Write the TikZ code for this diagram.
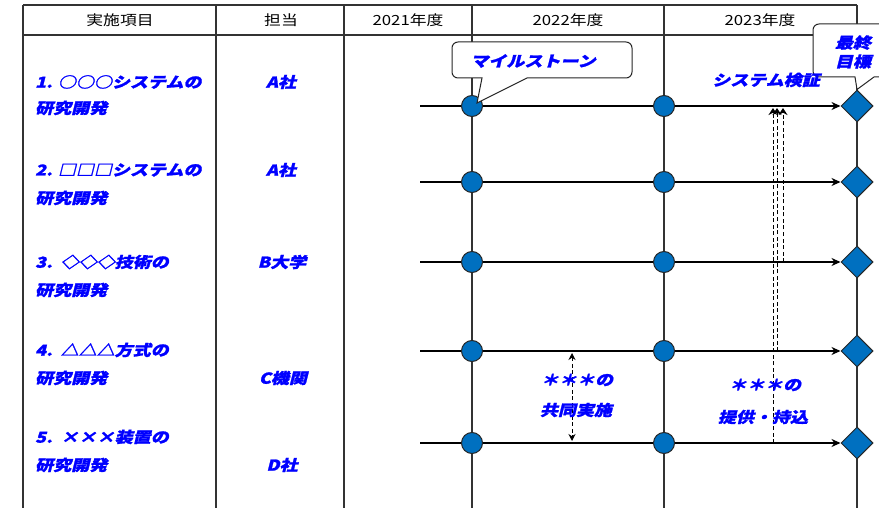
\documentclass[tikz,border=0pt]{standalone}
\usepackage{fontspec}
\usepackage{xcolor}
\usepackage{tikz}
\usetikzlibrary{calc,shapes.geometric,arrows.meta}

\newfontfamily\jphead[FakeStretch=1.2]{Noto Sans CJK JP}
\newfontfamily\jpblue[FakeSlant=0.25,FakeStretch=1.2,
    BoldFeatures={FakeSlant=0.25,FakeStretch=1.2,FakeBold=1.5}]{Noto Sans CJK JP}
\definecolor{msblue}{HTML}{0070C0}
\definecolor{textblue}{HTML}{0000FF}

\begin{document}
\begin{tikzpicture}[x=1pt, y=-1pt,
    grid/.style={draw=black!80, line width=1.3pt},
    head/.style={inner sep=0pt, font=\jphead\fontsize{14}{14}\selectfont},
    item/.style={anchor=west, inner sep=0pt, text=textblue, font=\jpblue\bfseries\fontsize{15}{19}\selectfont},
    who/.style={inner sep=0pt, text=textblue, font=\jpblue\bfseries\fontsize{15}{19}\selectfont},
    mile/.style={circle, draw=black!85, line width=1pt, fill=msblue, minimum size=21pt, inner sep=0pt},
    goal/.style={diamond, draw=black!85, line width=1pt, fill=msblue, minimum size=32pt, inner sep=0pt},
    plan/.style={line width=2.8pt, -{Stealth[length=9pt,width=8pt]}},
    link/.style={line width=1pt, dash pattern=on 4pt off 2.5pt, -{Stealth[length=7pt,width=9pt]}},
    both/.style={line width=1pt, dash pattern=on 4pt off 2.5pt, {Stealth[length=7pt,width=7pt]}-{Stealth[length=7pt,width=7pt]}},
    bubble/.style={draw=black!85, line width=1pt, fill=white}]

\useasboundingbox (0,0) rectangle (879,508);

% table
\draw[grid] (23,5) -- (857,5);
\draw[grid] (23,35) -- (857,35);
\foreach \x in {23,216,344,472,664,857}
    \draw[grid] (\x,5) -- (\x,508);

\node[head] (h1) at (120,20) {実施項目};
\node[head] (h2) at (281,20) {担当};
\node[head] (h3) at (408,20) {2021年度};
\node[head] (h4) at (568,20) {2022年度};
\node[head] (h5) at (760,20) {2023年度};

% schedule lines
\foreach \i/\y in {1/106,2/182,3/262,4/351,5/443} {
    \node[goal] (g\i) at (857,\y) {};
    \coordinate (s\i) at (420,\y);
    \draw[plan] (s\i) -- (g\i);
}

% links to system verification
\coordinate (v3) at (783,262);
\coordinate (v4) at (777,351);
\coordinate (v5) at (773,443);
\coordinate (w3) at (783,108);
\coordinate (w4) at (777,108);
\coordinate (w5) at (773,108);
\foreach \i in {3,4,5}
    \draw[link] (v\i) -- (w\i);

\coordinate (j1) at (572,353);
\coordinate (j2) at (572,441);
\draw[both] (j1) -- (j2);

\foreach \i/\y in {1/106,2/182,3/262,4/351,5/443} {
    \node[mile] (a\i) at (472,\y) {};
    \node[mile] (b\i) at (664,\y) {};
}

% callouts
\draw[bubble, rounded corners=6pt] (527,78) -- (632,78) -- (632,42) -- (452,42) -- (452,78) [sharp corners] -- (482,78) -- ([shift={(5,-3)}]a1.center) -- cycle;
\node[item, anchor=center] (m1) at (533,61) {マイルストーン};

\draw[bubble, rounded corners=6pt] (874,77) -- (900,77) -- (900,24) -- (813,24) -- (813,77) [sharp corners] -- (855,77) -- (g1.north) -- cycle;
\node[item, anchor=center, align=center] (m2) at (853,52) {最終\\目標};

% items
\node[item] (t1) at (35,82) {1. ○○○システムの};
\node[item] (u1) at (35,108) {研究開発};
\node[item] (t2) at (35,170) {2. □□□システムの};
\node[item] (u2) at (35,198) {研究開発};
\node[item] (t3) at (35,262) {3.\ \ ◇◇◇技術の};
\node[item] (u3) at (35,290) {研究開発};
\node[item] (t4) at (35,350) {4.\ \ △△△方式の};
\node[item] (u4) at (35,378) {研究開発};
\node[item] (t5) at (35,437) {5.\ \ ×××装置の};
\node[item] (u5) at (35,465) {研究開発};

\node[who] (c1) at (281,82) {A社};
\node[who] (c2) at (281,170) {A社};
\node[who] (c3) at (282,262) {B大学};
\node[who] (c4) at (283,378) {C機関};
\node[who] (c5) at (282,465) {D社};

\node[who] (k1) at (766,80) {システム検証};
\node[who] (k2) at (577,380) {＊＊＊の};
\node[who] (k3) at (576,410) {共同実施};
\node[who] (k4) at (765,385) {＊＊＊の};
\node[who] (k5) at (763,417) {提供・持込};

\end{tikzpicture}
\end{document}
